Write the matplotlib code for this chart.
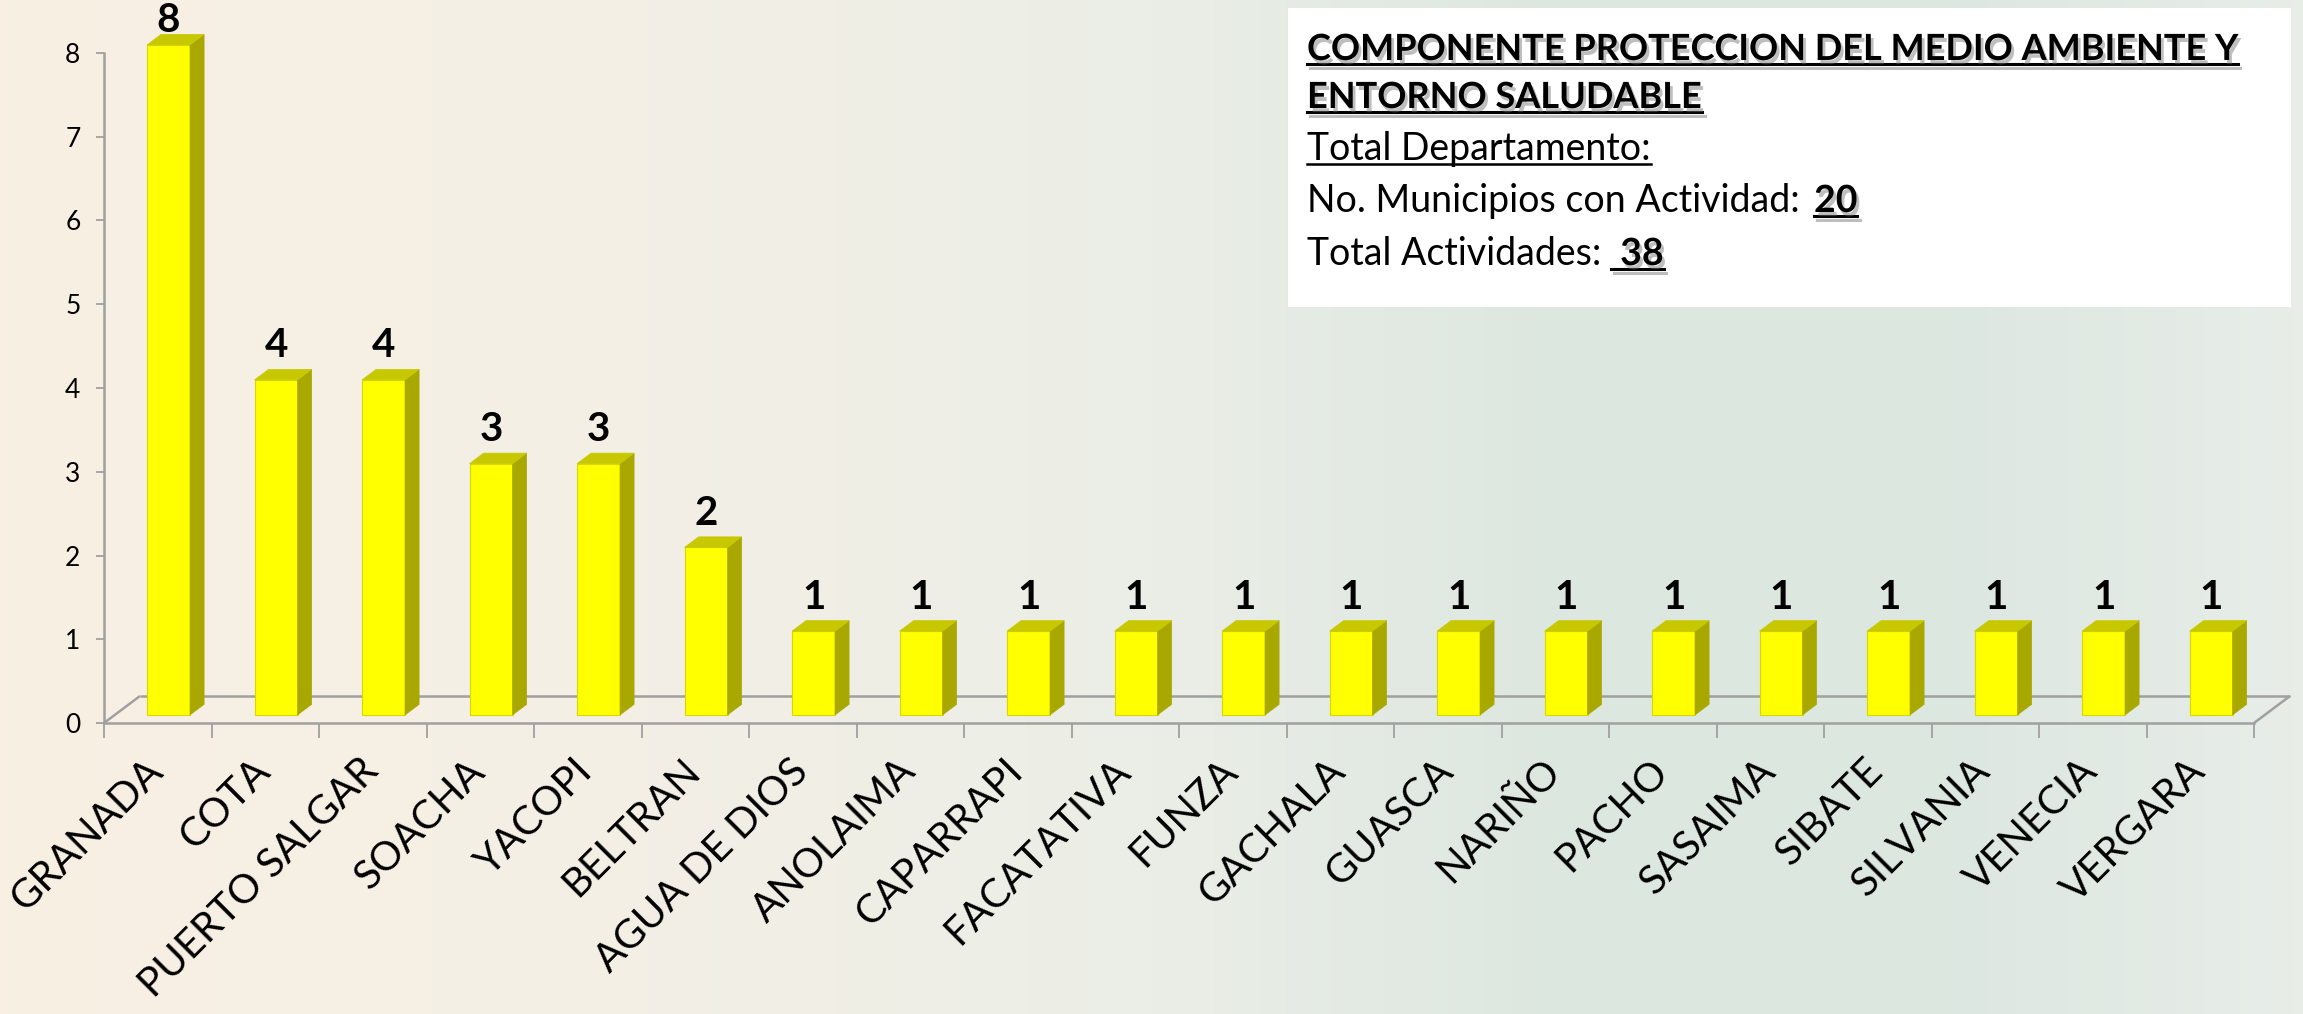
import numpy as np
import matplotlib
matplotlib.use("Agg")
import matplotlib.pyplot as plt
from matplotlib.patches import Polygon, Rectangle
from matplotlib.lines import Line2D
from matplotlib.transforms import offset_copy
import matplotlib.patheffects as pe
from matplotlib.colors import LinearSegmentedColormap

# ---------------- data ----------------
categories = ["GRANADA", "COTA", "PUERTO SALGAR", "SOACHA", "YACOPI", "BELTRAN",
              "AGUA DE DIOS", "ANOLAIMA", "CAPARRAPI", "FACATATIVA", "FUNZA",
              "GACHALA", "GUASCA", "NARIÑO", "PACHO", "SASAIMA", "SIBATE",
              "SILVANIA", "VENECIA", "VERGARA"]
values = [8, 4, 4, 3, 3, 2, 1, 1, 1, 1, 1, 1, 1, 1, 1, 1, 1, 1, 1, 1]
y_ticks = [0, 1, 2, 3, 4, 5, 6, 7, 8]

box_title = ["COMPONENTE PROTECCION DEL MEDIO AMBIENTE Y", "ENTORNO SALUDABLE"]
box_sub = "Total Departamento:"
municipios_label = "No. Municipios con Actividad: "
municipios_value = "20"
total_label = "Total Actividades: "
total_value = " 38"

# ---------------- style ----------------
W, H, DPI = 2303, 1014, 100
FONT = ["Lato", "DejaVu Sans"]
plt.rcParams['font.family'] = FONT
GRAY = "#A0A0A0"
FRONT, SIDE, TOP, EDGE = "#FFFF00", "#A8A800", "#C8C800", "#D8D800"

fig = plt.figure(figsize=(W / DPI, H / DPI), dpi=DPI)

# background gradient
bg = fig.add_axes([0, 0, 1, 1], zorder=0)
stops = [(0.0, (249, 240, 227)), (0.28, (243, 239, 229)), (0.5, (235, 238, 231)),
         (0.68, (220, 231, 224)), (0.85, (221, 231, 225)), (1.0, (232, 237, 232))]
cmap = LinearSegmentedColormap.from_list(
    "bg", [(p, tuple(c / 255 for c in col)) for p, col in stops])
bg.imshow(np.linspace(0, 1, 512)[None, :], aspect='auto', cmap=cmap, extent=[0, 1, 0, 1])
bg.set_axis_off()

# main axes geometry (pixels from top-left)
ax_left_px, ax_right_px = 104, 2254
floor_px = 723
unit_px = 83.75
ymax = 8.6
ax = fig.add_axes([ax_left_px / W, (H - floor_px) / H,
                   (ax_right_px - ax_left_px) / W, ymax * unit_px / H], zorder=1)
ax.patch.set_alpha(0)
n = len(categories)
ax.set_xlim(-0.5, n - 0.5)
ax.set_ylim(0, ymax)

px_x = (ax_right_px - ax_left_px) / n
DX, DY = 36 / px_x, 27 / unit_px          # floor depth in data units
f0, f1 = 0.3, 0.69                        # bar depth range
bw = 0.4

# floor lines
lkw = dict(color=GRAY, lw=1.8, clip_on=False, zorder=1, solid_capstyle='butt')
ax.plot([-0.5 + DX, n - 0.5 + DX], [DY, DY], **lkw)
ax.plot([-0.5, -0.5 + DX], [0, DY], **lkw)
ax.plot([n - 0.5, n - 0.5 + DX], [0, DY], **lkw)

# spines
for s in ["top", "right"]:
    ax.spines[s].set_visible(False)
ax.spines["left"].set_bounds(0, y_ticks[-1])
ax.spines["left"].set_color(GRAY)
ax.spines["left"].set_linewidth(1.8)
ax.spines["bottom"].set_color(GRAY)
ax.spines["bottom"].set_linewidth(1.8)

ax.set_yticks(y_ticks)
ax.set_yticklabels([str(t) for t in y_ticks], fontsize=19)
ax.tick_params(axis='y', length=6, width=1.3, color=GRAY, pad=11)
ax.set_xticks([])
ax.set_xticks(np.arange(-0.5, n, 1), minor=True)
ax.tick_params(axis='x', which='minor', length=11, width=1.3, color=GRAY, direction='out')

# bars
ddx, ddy = (f1 - f0) * DX, (f1 - f0) * DY
label_cap = (floor_px - 32) / unit_px
for i, v in enumerate(values):
    xl = i - bw / 2 + f0 * DX
    xr = xl + bw
    yb = f0 * DY
    yt = v + f0 * DY
    ax.add_patch(Polygon([(xl, yb), (xr, yb), (xr, yt), (xl, yt)], closed=True,
                         facecolor=FRONT, edgecolor=EDGE, lw=0.8, zorder=3))
    ax.add_patch(Polygon([(xr, yb), (xr + ddx, yb + ddy), (xr + ddx, yt + ddy), (xr, yt)],
                         closed=True, facecolor=SIDE, edgecolor=SIDE, lw=0.5, zorder=3))
    ax.add_patch(Polygon([(xl, yt), (xr, yt), (xr + ddx, yt + ddy), (xl + ddx, yt + ddy)],
                         closed=True, facecolor=TOP, edgecolor=TOP, lw=0.5, zorder=3))
    ly = min(yt + ddy + 12 / unit_px, label_cap)
    ax.text((xl + xr) / 2, ly, str(v), ha='center', va='baseline', fontsize=29,
            fontweight='bold', color='black', zorder=4, clip_on=False)

# category labels
lab_tr = offset_copy(ax.transData, fig=fig, x=-1, y=-42, units='dots')
for i, c in enumerate(categories):
    ax.text(i, 0, c, transform=lab_tr, rotation=45, ha='right', va='center',
            rotation_mode='anchor', fontsize=29, color='black', clip_on=False)

# text box
fig.patches.append(Rectangle((1288 / W, 1 - 307 / H), (2291 - 1288) / W, (307 - 8) / H,
                             transform=fig.transFigure, facecolor='white',
                             edgecolor='none', zorder=2))

shadow = [pe.SimplePatchShadow(offset=(2, -3), shadow_rgbFace='#707070', alpha=0.45), pe.Normal()]
lshadow = [pe.SimpleLineShadow(offset=(2, -3), shadow_color='#707070', alpha=0.45), pe.Normal()]
x0 = 1307
t1 = fig.text(x0 / W, 1 - 60 / H, box_title[0], fontsize=26, fontweight='bold',
              va='baseline', ha='left', zorder=3, path_effects=shadow)
t2 = fig.text(x0 / W, 1 - 108 / H, box_title[1], fontsize=26, fontweight='bold',
              va='baseline', ha='left', zorder=3, path_effects=shadow)
t3 = fig.text(x0 / W, 1 - 160 / H, box_sub, fontsize=27, va='baseline', ha='left', zorder=3)
t4 = fig.text(x0 / W, 1 - 212 / H, municipios_label, fontsize=27, va='baseline', ha='left', zorder=3)
t5 = fig.text(x0 / W, 1 - 265 / H, total_label, fontsize=27, va='baseline', ha='left', zorder=3)

fig.canvas.draw()
r = fig.canvas.get_renderer()
x4 = t4.get_window_extent(r).x1
x5 = t5.get_window_extent(r).x1
t4b = fig.text(x4 / W + 0.002, 1 - 212 / H, municipios_value, fontsize=27, fontweight='bold',
               va='baseline', ha='left', zorder=3, path_effects=shadow)
t5b = fig.text(x5 / W, 1 - 265 / H, total_value, fontsize=27, fontweight='bold',
               va='baseline', ha='left', zorder=3, path_effects=shadow)
fig.canvas.draw()
r = fig.canvas.get_renderer()


def underline(t, base_px, bold):
    bb = t.get_window_extent(r)
    y = (H - base_px - 4) / H
    fig.add_artist(Line2D([bb.x0 / W, bb.x1 / W], [y, y], transform=fig.transFigure,
                          color='black', lw=2.2 if bold else 1.8, zorder=3,
                          path_effects=lshadow if bold else None))


underline(t1, 60, True)
underline(t2, 108, True)
underline(t3, 160, False)
underline(t4b, 212, True)
underline(t5b, 265, True)

fig.savefig("out.png", dpi=DPI)
